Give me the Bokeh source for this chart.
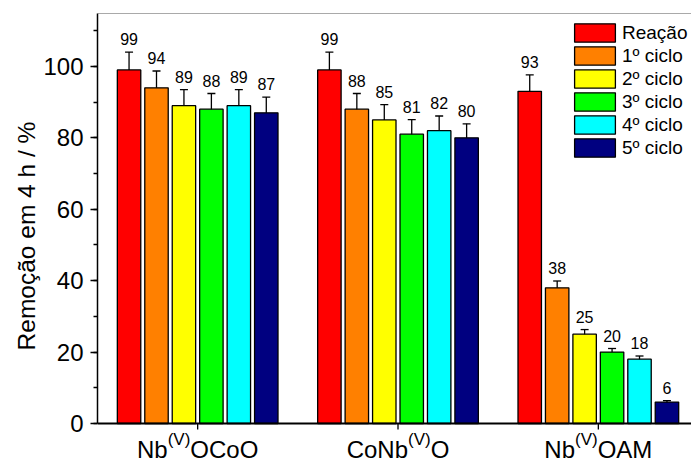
from bokeh.plotting import figure
from bokeh.models import (Range1d, SingleIntervalTicker, ColumnDataSource,
                          Whisker, TeeHead, Legend, LegendItem, Span)
from bokeh.core.properties import value
from bokeh.embed import file_html
from bokeh.resources import INLINE

FONT = "Liberation Sans"

# catalysts (x groups); each name is drawn as base + superscript + tail
groups = [1, 2, 3]
label_base = ["Nb", "CoNb", "Nb"]
label_sup = ["(V)", "(V)", "(V)"]
label_tail = ["OCoO", "O", "OAM"]

series_names = ["Reação", "1º ciclo", "2º ciclo", "3º ciclo", "4º ciclo", "5º ciclo"]
series_colors = ["#FF0000", "#FF8000", "#FFFF00", "#00FF00", "#00FFFF", "#000080"]

# removal after 4 h (%) for each catalyst
reacao = [99, 99, 93]
ciclo1 = [94, 88, 38]
ciclo2 = [89, 85, 25]
ciclo3 = [88, 81, 20]
ciclo4 = [89, 82, 18]
ciclo5 = [87, 80, 6]

# error bar half-widths (%)
err_reacao = [5.0, 5.0, 4.6]
err_ciclo1 = [4.7, 4.4, 1.9]
err_ciclo2 = [4.5, 4.3, 1.3]
err_ciclo3 = [4.4, 4.1, 1.0]
err_ciclo4 = [4.5, 4.1, 0.9]
err_ciclo5 = [4.4, 3.9, 0.4]

y_ticks_step = 20
y_label = "Remoção em 4 h / %"

series_values = [reacao, ciclo1, ciclo2, ciclo3, ciclo4, ciclo5]
series_errors = [err_reacao, err_ciclo1, err_ciclo2, err_ciclo3, err_ciclo4, err_ciclo5]

BAR_PITCH = 0.137
BAR_WIDTH = 0.117
Y_MAX = 114.8
Y_MIN = -9.8          # room under the zero line for the catalyst names
PX_PER_UNIT = 445 / (Y_MAX - Y_MIN)

p = figure(width=691, height=458, output_backend="svg", toolbar_location=None,
           x_range=Range1d(0.5, 3.465), y_range=Range1d(Y_MIN, Y_MAX),
           x_axis_location=None,
           min_border_left=97, min_border_right=0, min_border_top=13, min_border_bottom=0)
p.background_fill_color = "white"
p.border_fill_color = "white"
p.outline_line_color = None
p.xgrid.grid_line_color = None
p.ygrid.grid_line_color = None

legend_items = []
n = len(series_names)
for i, (name, vals, errs, color) in enumerate(zip(series_names, series_values, series_errors, series_colors)):
    xs = [g + (i - (n - 1) / 2) * BAR_PITCH for g in groups]
    src = ColumnDataSource(dict(
        x=xs, top=vals,
        upper=[v + e for v, e in zip(vals, errs)],
        lower=[v - e for v, e in zip(vals, errs)],
        label=[str(v) for v in vals],
    ))
    r = p.vbar(x="x", top="top", bottom=0, width=BAR_WIDTH, source=src,
               fill_color=color, line_color="black", line_width=1.3)
    legend_items.append(LegendItem(label=name, renderers=[r]))
    w = Whisker(source=src, base="x", upper="upper", lower="lower",
                line_color="black", line_width=1.3,
                upper_head=TeeHead(size=8, line_color="black", line_width=1.3),
                lower_head=TeeHead(size=8, line_color="black", line_width=1.3))
    p.add_layout(w)
    p.text(x="x", y="upper", text="label", source=src, text_align="center",
           text_baseline="alphabetic", y_offset=-13, text_color="black",
           text_font=value(FONT), text_font_size="16px")

legend = Legend(items=legend_items, location=(472, 299), orientation="vertical",
                glyph_width=51, glyph_height=23, spacing=0, padding=0, margin=0,
                label_height=20, label_standoff=2, border_line_alpha=0,
                background_fill_alpha=0,
                label_text_font=FONT, label_text_font_size="19px", label_text_color="black")
p.add_layout(legend)

# y axis (line only over the 0..Y_MAX span)
yax = p.yaxis[0]
yax.bounds = (0, Y_MAX)
yax.ticker = SingleIntervalTicker(interval=y_ticks_step, num_minor_ticks=2)
yax.axis_label = y_label
yax.axis_label_text_font = FONT
yax.axis_label_text_font_size = "24.5px"
yax.axis_label_text_font_style = "normal"
yax.axis_label_text_color = "black"
yax.axis_label_standoff = 0
yax.major_label_text_font = FONT
yax.major_label_text_font_size = "24px"
yax.major_label_text_color = "black"
yax.major_label_standoff = 7
yax.axis_line_width = 1.5
yax.axis_line_color = "black"
yax.major_tick_in = 0
yax.major_tick_out = 7
yax.minor_tick_in = 0
yax.minor_tick_out = 4
yax.major_tick_line_width = 1.3
yax.minor_tick_line_width = 1.3
yax.major_tick_line_color = "black"
yax.minor_tick_line_color = "black"

# zero line acting as the category axis, with a tick under each group
p.add_layout(Span(location=0, dimension="width", line_color="black", line_width=2))
tick_len = 6 / PX_PER_UNIT
p.segment(x0=groups, x1=groups, y0=[0] * len(groups), y1=[-tick_len] * len(groups),
          line_color="black", line_width=1.3)

# top frame line
p.add_layout(Span(location=Y_MAX, dimension="width", line_color="#555555", line_width=1))

# Arial / Liberation Sans advance widths (per 1000 em) for the catalyst names
ADV = {"N": 722, "b": 556, "C": 722, "o": 556, "O": 778, "A": 667, "M": 833,
       "(": 333, "V": 667, ")": 333}


def text_w(s, size):
    return sum(ADV.get(c, 556) for c in s) * size / 1000.0


MAIN_SIZE, SUP_SIZE = 24, 17
base_off, sup_off, tail_off = [], [], []
for b, s, t in zip(label_base, label_sup, label_tail):
    total = text_w(b, MAIN_SIZE) + text_w(s, SUP_SIZE) + text_w(t, MAIN_SIZE)
    start = -total / 2
    base_off.append(start)
    sup_off.append(start + text_w(b, MAIN_SIZE))
    tail_off.append(start + text_w(b, MAIN_SIZE) + text_w(s, SUP_SIZE))

name_src = ColumnDataSource(dict(x=groups, y=[0] * len(groups),
                                 base=label_base, sup=label_sup, tail=label_tail,
                                 base_off=base_off, sup_off=sup_off, tail_off=tail_off))
for col, off, size, dy in [("base", "base_off", MAIN_SIZE, 26),
                           ("sup", "sup_off", SUP_SIZE, 16),
                           ("tail", "tail_off", MAIN_SIZE, 26)]:
    p.text(x="x", y="y", text=col, x_offset=off, y_offset=dy, source=name_src,
           text_align="left", text_baseline="alphabetic", text_color="black",
           text_font=value(FONT), text_font_size=f"{size}px")

open("out.html", "w").write(file_html(p, INLINE))
